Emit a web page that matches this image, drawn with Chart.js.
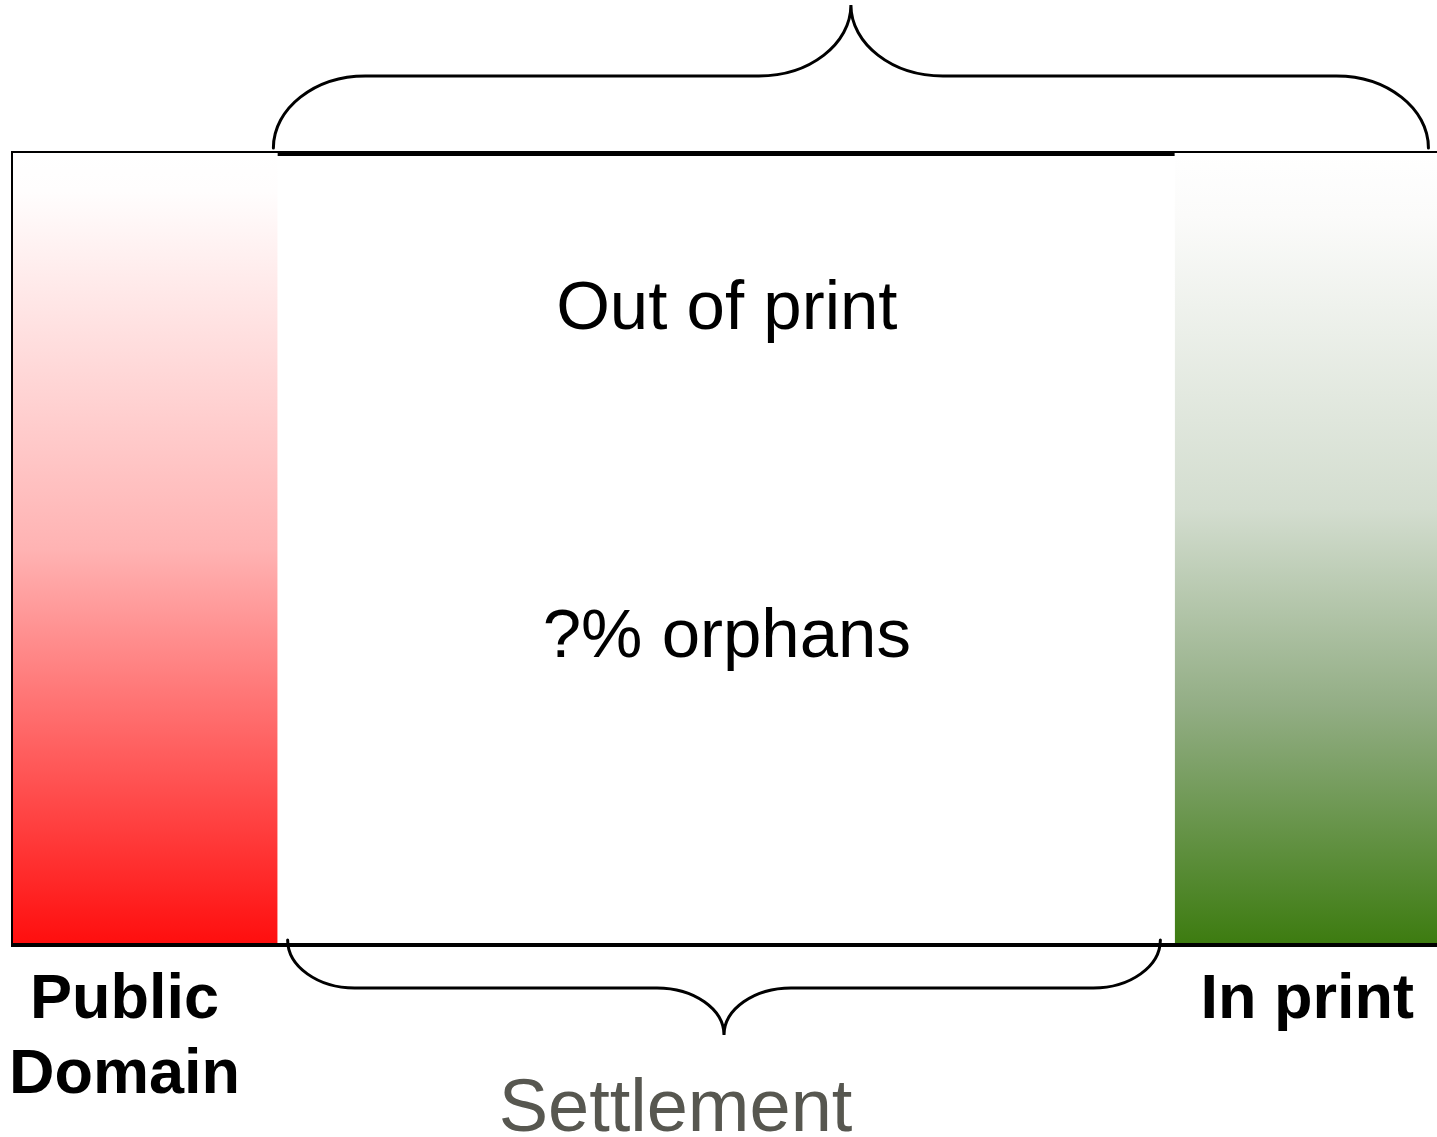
<!DOCTYPE html>
<html>
<head>
<meta charset="utf-8">
<script src="https://cdn.jsdelivr.net/npm/chart.js@4/dist/chart.umd.min.js"></script>
<style>
  html, body { margin: 0; padding: 0; background: #fff; }
  #wrap { width: 1437px; height: 1137px; }
</style>
</head>
<body>
<div id="wrap"><canvas id="diagram"></canvas></div>
<script>
// Bands along the span of all books (percent of the box width)
const segments   = ['Public Domain', 'Out of print', 'In print'];
const segStart   = [0, 18.7, 81.6];
const segEnd     = [18.7, 81.6, 100];
const segHeight  = [100, 100, 100];

// Braces over / under the box (percent of the box width)
const braceNames = ['All books', 'Settlement'];
const braceFrom  = [18.4, 19.4];
const braceTo    = [99.4, 80.6];

// Text labels
const labels = ['Out of print', '?% orphans', 'Public', 'Domain', 'In print', 'Settlement'];

function gradientFor(name) {
  return (ctx) => {
    const a = ctx.chart.chartArea;
    if (!a) return 'rgba(0,0,0,0)';
    const g = ctx.chart.ctx.createLinearGradient(0, a.top, 0, a.bottom);
    if (name === 'Public Domain') {
      g.addColorStop(0, '#ffffff');
      g.addColorStop(0.05, '#fffdfd');
      g.addColorStop(0.5, '#ffb3b3');
      g.addColorStop(1, '#ff0d0d');
    } else if (name === 'In print') {
      g.addColorStop(0, '#ffffff');
      g.addColorStop(0.08, '#fbfbfa');
      g.addColorStop(0.45, '#d3ddcf');
      g.addColorStop(0.7, '#92ad84');
      g.addColorStop(1, '#3c7b0f');
    } else {
      g.addColorStop(0, '#ffffff');
      g.addColorStop(1, '#ffffff');
    }
    return g;
  };
}

const datasets = segments.map((name, i) => ({
  label: name,
  data: [{ x: segStart[i], y: segHeight[i] }, { x: segEnd[i], y: segHeight[i] }],
  showLine: true,
  fill: 'origin',
  borderWidth: 0,
  pointRadius: 0,
  backgroundColor: gradientFor(name),
}));

function brace(ctx, x1, x2, yBase, yFlat, yTip, r) {
  const mid = (x1 + x2) / 2;
  const k = 0.55;
  ctx.beginPath();
  ctx.moveTo(x1, yBase);
  ctx.bezierCurveTo(x1, yBase + (yFlat - yBase) * k, x1 + r * (1 - k), yFlat, x1 + r, yFlat);
  ctx.lineTo(mid - r, yFlat);
  ctx.bezierCurveTo(mid - r * (1 - k), yFlat, mid, yFlat + (yTip - yFlat) * (1 - k), mid, yTip);
  ctx.bezierCurveTo(mid, yFlat + (yTip - yFlat) * (1 - k), mid + r * (1 - k), yFlat, mid + r, yFlat);
  ctx.lineTo(x2 - r, yFlat);
  ctx.bezierCurveTo(x2 - r * (1 - k), yFlat, x2, yBase + (yFlat - yBase) * k, x2, yBase);
  ctx.stroke();
}

const decorations = {
  id: 'decorations',
  afterDatasetsDraw(chart) {
    const { ctx, chartArea: a, scales: { x, y } } = chart;
    ctx.save();

    // box outline
    ctx.strokeStyle = '#000';
    ctx.lineWidth = 2;
    ctx.beginPath();
    ctx.moveTo(a.left + 1, a.bottom);
    ctx.lineTo(a.left + 1, a.top);
    ctx.lineTo(a.right, a.top);
    ctx.stroke();

    // thick top edge of the middle band, thick bottom edge
    ctx.lineWidth = 4;
    ctx.beginPath();
    ctx.moveTo(x.getPixelForValue(segStart[1]), y.getPixelForValue(100) + 2);
    ctx.lineTo(x.getPixelForValue(segEnd[1]), y.getPixelForValue(100) + 2);
    ctx.moveTo(a.left, y.getPixelForValue(0) - 1);
    ctx.lineTo(a.right, y.getPixelForValue(0) - 1);
    ctx.stroke();

    // braces
    ctx.lineWidth = 3;
    ctx.lineCap = 'round';
    brace(ctx, x.getPixelForValue(braceFrom[0]), x.getPixelForValue(braceTo[0]),
      y.getPixelForValue(100) - 4, 76, 5, 92);
    brace(ctx, x.getPixelForValue(braceFrom[1]), x.getPixelForValue(braceTo[1]),
      y.getPixelForValue(0) - 6, 988, 1035, 67);

    // texts
    ctx.textAlign = 'center';
    ctx.textBaseline = 'alphabetic';
    ctx.fillStyle = '#000';
    ctx.font = '69px "Liberation Sans", Arial, sans-serif';
    ctx.fillText(labels[0], x.getPixelForValue(50.2), 329);
    ctx.fillText(labels[1], x.getPixelForValue(50.2), 657);

    ctx.font = 'bold 63px "Liberation Sans", Arial, sans-serif';
    ctx.fillText(labels[2], x.getPixelForValue(7.96), 1018);
    ctx.fillText(labels[3], x.getPixelForValue(7.96), 1093);
    ctx.fillText(labels[4], x.getPixelForValue(90.9), 1018);

    ctx.fillStyle = '#575750';
    ctx.font = '74px "Liberation Sans", Arial, sans-serif';
    ctx.fillText(labels[5], x.getPixelForValue(46.6), 1131);

    ctx.restore();
  }
};

new Chart(document.getElementById('diagram'), {
  type: 'line',
  data: { datasets },
  options: {
    responsive: true,
    maintainAspectRatio: false,
    animation: false,
    events: [],
    layout: { padding: { left: 11, right: 0, top: 152, bottom: 191 } },
    plugins: { legend: { display: false }, tooltip: { enabled: false } },
    scales: {
      x: { type: 'linear', min: 0, max: 100, display: false },
      y: { type: 'linear', min: 0, max: 100, display: false },
    },
  },
  plugins: [decorations],
});
</script>
</body>
</html>
